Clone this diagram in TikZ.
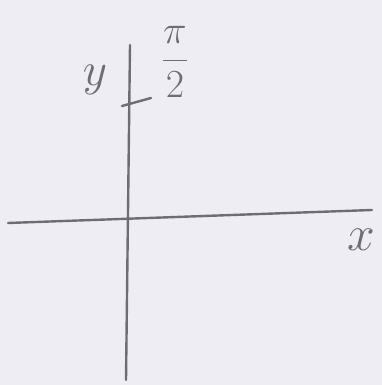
\documentclass[tikz,border=0pt]{standalone}
\usepackage{amsmath,amssymb}
\usepackage{xcolor}
\usepackage{tikz}
\usetikzlibrary{calc,positioning}
\definecolor{paperc}{HTML}{EDEDF3}
\definecolor{pencilc}{HTML}{6E6E72}
\tikzset{
  axis/.style={pencilc,line width=2.4pt,line cap=round},
  lbl/.style={pencilc,inner sep=0pt,font=\Huge,transform shape}
}
\begin{document}
\begin{tikzpicture}[x=1pt,y=-1pt]
\fill[paperc] (0,0) rectangle (382,385);
\useasboundingbox (0,0) rectangle (382,385);
\coordinate (xl) at (8,223); \coordinate (xr) at (372,210);
\coordinate (yt) at (130,45); \coordinate (yb) at (126,380);
\coordinate (ta) at (122,106); \coordinate (tb) at (151,98);
\draw[axis] (xl)--(xr);
\draw[axis] (yt)--(yb);
\draw[axis] (ta)--(tb);
\node[lbl,scale=1.9] (ylab) at (95,80) {$y$};
\node[lbl,scale=2] (xlab) at (361,240) {$x$};
\node[lbl,scale=1.6] (pilab) at (175,62) {$\dfrac{\pi}{2}$};
\end{tikzpicture}
\end{document}
